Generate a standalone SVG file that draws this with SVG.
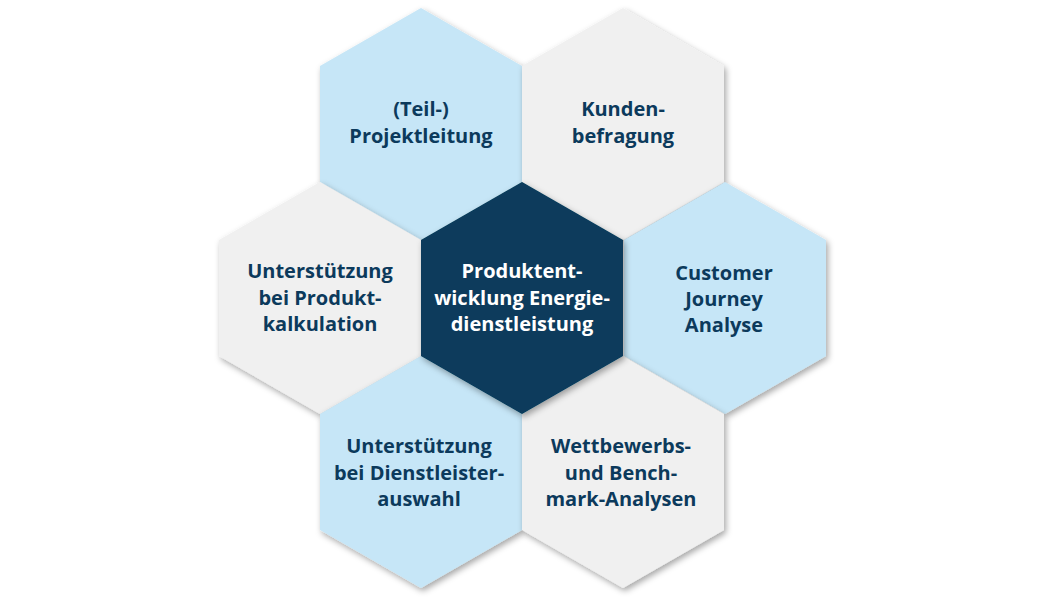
<svg xmlns="http://www.w3.org/2000/svg" width="1064" height="599" viewBox="0 0 1064 599">
<defs>
<filter id="sh" x="-20%" y="-20%" width="140%" height="140%">
<feDropShadow dx="2" dy="3" stdDeviation="3" flood-color="#000" flood-opacity="0.35"/>
</filter>
<polygon id="hex" points="0,-116 101,-58 101,58 0,116 -101,58 -101,-58"/>
</defs>
<style>
.blue{fill:#c6e6f7}
.gray{fill:#f0f0f0}
.dark{fill:#073b5b}
text{font-family:"Open Sans","Noto Sans","Liberation Sans",sans-serif;font-weight:700;font-size:20px;text-anchor:middle;fill:#0c3a5c}
.w{fill:#ffffff}
</style>
<rect width="1064" height="599" fill="#ffffff"/>
<g id="n-teil">
<use href="#hex" x="421" y="124" class="blue" filter="url(#sh)"/>
<text x="421" y="116">(Teil-)</text>
<text x="421" y="143">Projektleitung</text>
</g>
<g id="n-kunden">
<use href="#hex" x="623" y="124" class="gray" filter="url(#sh)"/>
<text x="623" y="116">Kunden-</text>
<text x="623" y="143">befragung</text>
</g>
<g id="n-kalk">
<use href="#hex" x="320" y="298" class="gray" filter="url(#sh)"/>
<text x="320" y="278">Unterstützung</text>
<text x="320" y="305">bei Produkt-</text>
<text x="320" y="331">kalkulation</text>
</g>
<g id="n-journey">
<use href="#hex" x="725" y="298" class="blue" filter="url(#sh)"/>
<text x="724" y="280">Customer</text>
<text x="724" y="306">Journey</text>
<text x="724" y="332">Analyse</text>
</g>
<g id="n-dienst">
<use href="#hex" x="421" y="472" class="blue" filter="url(#sh)"/>
<text x="419" y="453">Unterstützung</text>
<text x="419" y="480">bei Dienstleister-</text>
<text x="419" y="506">auswahl</text>
</g>
<g id="n-wett">
<use href="#hex" x="623" y="472" class="gray" filter="url(#sh)"/>
<text x="621" y="453">Wettbewerbs-</text>
<text x="621" y="480">und Bench-</text>
<text x="621" y="506">mark-Analysen</text>
</g>
<g id="n-center">
<use href="#hex" x="522" y="298" class="dark" filter="url(#sh)"/>
<text class="w" x="522" y="278">Produktent-</text>
<text class="w" x="522" y="305">wicklung Energie-</text>
<text class="w" x="522" y="331">dienstleistung</text>
</g>
<g id="connectors"/>
</svg>
